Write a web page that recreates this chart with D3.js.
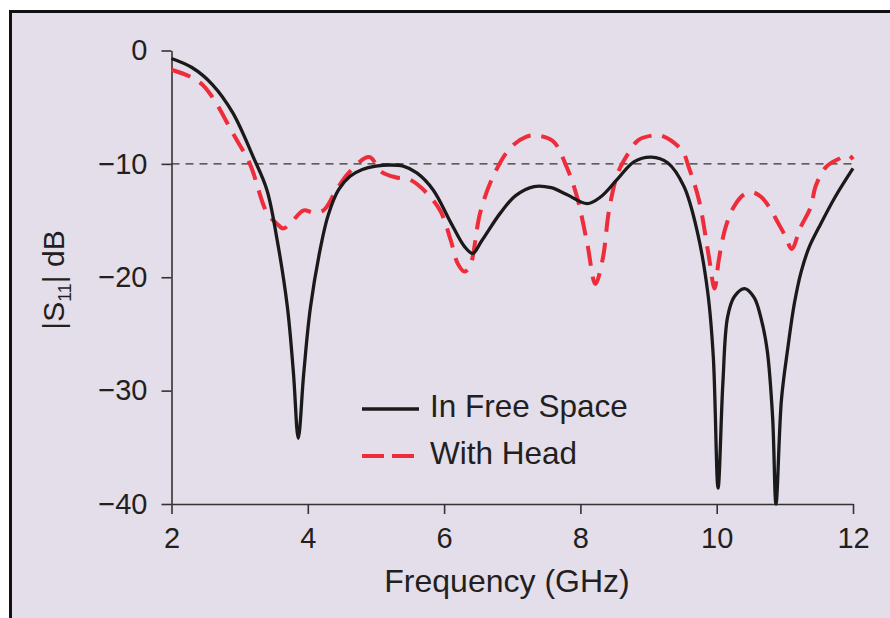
<!DOCTYPE html>
<html>
<head>
<meta charset="utf-8">
<script src="https://cdn.jsdelivr.net/npm/d3@7"></script>
<style>
  body { margin: 0; background: #fff; }
  svg text { font-family: "Liberation Sans", Arial, Helvetica, sans-serif; fill: #231f20; }
</style>
</head>
<body>
<svg></svg>
<script>
// frequency in GHz, |S11| in dB
var freeSpace = [
  [2.0, -0.7], [2.3, -1.5], [2.6, -3.0], [2.9, -5.5], [3.2, -9.4], [3.4, -12.3],
  [3.55, -16.7], [3.7, -22.6], [3.79, -28.5], [3.86, -34.2], [3.94, -28.5], [4.04, -22.6],
  [4.21, -16.7], [4.3, -14.5], [4.45, -12.3], [4.62, -11.1], [4.8, -10.5], [5.0, -10.2],
  [5.2, -10.1], [5.4, -10.2], [5.6, -10.8], [5.84, -12.3], [6.1, -15.2], [6.3, -17.3],
  [6.42, -17.9], [6.55, -16.8], [6.83, -14.3], [7.05, -12.8], [7.32, -12.0], [7.57, -12.1],
  [7.8, -12.7], [8.1, -13.5], [8.3, -12.9], [8.55, -11.3], [8.79, -9.8], [9.04, -9.4],
  [9.28, -9.9], [9.52, -12.0], [9.72, -16.1], [9.87, -21.4], [9.95, -27.0], [10.02, -38.6],
  [10.09, -29.4], [10.16, -23.5], [10.26, -21.7], [10.41, -21.0], [10.55, -21.8], [10.65, -23.6],
  [10.74, -26.4], [10.82, -32.3], [10.87, -40.0], [10.95, -30.8], [11.04, -26.4], [11.14, -22.3],
  [11.24, -19.5], [11.36, -17.3], [11.5, -15.6], [11.74, -12.9], [12.0, -10.4]
];

var withHead = [
  [2.0, -1.7], [2.27, -2.3], [2.45, -3.0], [2.61, -4.2], [2.9, -7.3], [3.15, -10.0],
  [3.4, -14.3], [3.55, -15.3], [3.64, -15.7], [3.75, -15.2], [3.94, -14.1], [4.08, -14.3],
  [4.23, -14.1], [4.42, -12.3], [4.6, -10.8], [4.9, -9.4], [5.08, -10.7], [5.3, -11.2],
  [5.5, -11.4], [5.75, -12.6], [5.95, -14.2], [6.1, -16.8], [6.2, -18.8], [6.3, -19.5],
  [6.38, -19.0], [6.53, -14.3], [6.72, -11.1], [6.97, -8.6], [7.21, -7.6], [7.36, -7.5],
  [7.6, -8.0], [7.8, -10.3], [7.95, -12.9], [8.1, -17.0], [8.22, -20.6], [8.33, -18.3],
  [8.42, -14.1], [8.55, -10.8], [8.7, -9.1], [8.85, -7.9], [9.05, -7.5], [9.19, -7.5],
  [9.49, -8.8], [9.59, -10.3], [9.74, -13.2], [9.88, -18.0], [9.97, -21.0], [10.03, -18.5],
  [10.13, -15.6], [10.25, -13.8], [10.4, -12.7], [10.52, -12.5], [10.65, -12.9], [10.77, -13.8],
  [10.9, -15.2], [11.01, -16.4], [11.1, -17.5], [11.23, -15.6], [11.38, -13.8], [11.45, -12.0],
  [11.6, -10.3], [11.78, -9.6], [11.93, -9.2], [12.0, -9.6]
];

var xTicks = [2, 4, 6, 8, 10, 12];
var yTicks = [0, -10, -20, -30, -40];
var refLevel = [-10];
var seriesNames = ["In Free Space", "With Head"];

var width = 890;
var height = 618;

var svg = d3.select("svg")
    .attr("width", width)
    .attr("height", height);

// lavender panel with black frame
svg.append("rect")
    .attr("x", 10.5)
    .attr("y", 11.5)
    .attr("width", width + 10)
    .attr("height", height + 10)
    .style("fill", "#e3dee9")
    .style("stroke", "#111")
    .style("stroke-width", 3);

var x = d3.scaleLinear().domain([2, 12]).range([171.5, 853]);
var y = d3.scaleLinear().domain([-40, 0]).range([504, 50.5]);

var xAxis = svg.append("g")
    .attr("transform", "translate(0," + y(-40) + ")")
    .call(d3.axisBottom(x).tickValues(xTicks).tickSize(10).tickSizeOuter(0).tickPadding(13));

var yAxis = svg.append("g")
    .attr("transform", "translate(" + x(2) + ",0)")
    .call(d3.axisLeft(y).tickValues(yTicks).tickSize(10).tickSizeOuter(0).tickPadding(14));

[xAxis, yAxis].forEach(function(g) {
  g.select(".domain").style("stroke", "#333").style("stroke-width", 1.6);
  g.selectAll(".tick line").style("stroke", "#333").style("stroke-width", 1.6);
  g.selectAll(".tick text").style("font-size", "29px").style("fill", "#231f20");
});

// -10 dB reference
svg.selectAll("line.ref")
    .data(refLevel)
    .enter()
    .append("line")
    .attr("class", "ref")
    .attr("x1", x(2))
    .attr("x2", x(12))
    .attr("y1", function(d) { return y(d); })
    .attr("y2", function(d) { return y(d); })
    .style("stroke", "#333")
    .style("stroke-width", 1.4)
    .style("stroke-dasharray", "8,6");

var line = d3.line()
    .x(function(d) { return x(d[0]); })
    .y(function(d) { return y(d[1]); })
    .curve(d3.curveCatmullRom.alpha(0.5));

svg.append("path")
    .datum(withHead)
    .attr("d", line)
    .style("fill", "none")
    .style("stroke", "#ee2c3a")
    .style("stroke-width", 4)
    .style("stroke-dasharray", "20,11");

svg.append("path")
    .datum(freeSpace)
    .attr("d", line)
    .style("fill", "none")
    .style("stroke", "#1a1a1a")
    .style("stroke-width", 3.3)
    .style("stroke-linejoin", "round");

// legend
var legend = svg.selectAll("g.legend")
    .data(seriesNames)
    .enter()
    .append("g")
    .attr("class", "legend")
    .attr("transform", function(d, i) { return "translate(0," + (i * 47) + ")"; });

legend.append("line")
    .attr("x1", 362)
    .attr("x2", 419)
    .attr("y1", 409)
    .attr("y2", 409)
    .style("stroke", function(d, i) { return i == 0 ? "#1a1a1a" : "#ee2c3a"; })
    .style("stroke-width", function(d, i) { return i == 0 ? 3.3 : 4; })
    .style("stroke-dasharray", function(d, i) { return i == 0 ? null : "22,8"; });

legend.append("text")
    .attr("x", 430)
    .attr("y", 416.5)
    .style("font-size", "31.5px")
    .text(function(d) { return d; });

// axis titles
svg.append("text")
    .attr("x", 507)
    .attr("y", 592)
    .attr("text-anchor", "middle")
    .style("font-size", "32px")
    .text("Frequency (GHz)");

var yLabel = svg.append("text")
    .attr("transform", "translate(64,280) rotate(-90)")
    .attr("text-anchor", "middle")
    .style("font-size", "30px");
yLabel.append("tspan").text("|S");
yLabel.append("tspan").attr("dy", 7).style("font-size", "18px").text("11");
yLabel.append("tspan").attr("dy", -7).text("| dB");
</script>
</body>
</html>
